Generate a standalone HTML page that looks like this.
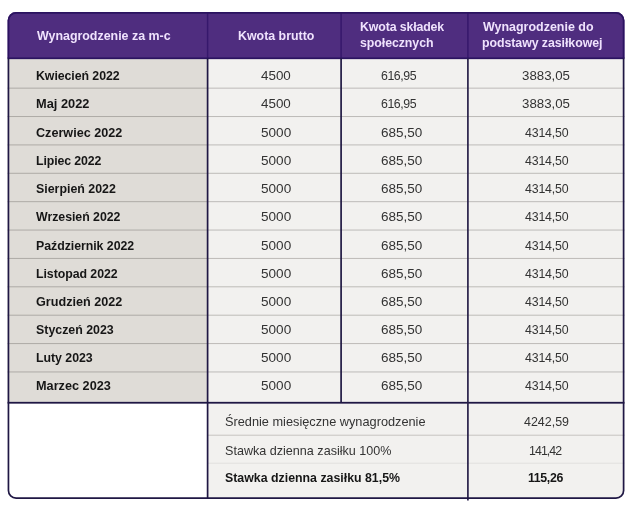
<!DOCTYPE html>
<html lang="pl"><head><meta charset="utf-8"><title>Wynagrodzenie – podstawa zasiłkowa</title>
<style>
html,body{margin:0;padding:0;background:#fff}
#w{position:relative;width:640px;height:510px;overflow:hidden;background:#fff;font-family:"Liberation Sans",sans-serif}
.t{position:absolute;white-space:nowrap;line-height:1;transform-origin:0 50%;display:block}
.b{font-weight:bold}
</style></head><body><div id="w">
<svg width="640" height="510" viewBox="0 0 640 510" style="position:absolute;left:0;top:0">
<defs><clipPath id="cp"><rect x="7.6" y="11.95" width="616.85" height="487.0" rx="8.5" ry="8.5"/></clipPath></defs>
<g clip-path="url(#cp)">
<rect x="0" y="0" width="640" height="58.3" fill="#4f2d7f"/>
<rect x="0" y="58.3" width="207.6" height="344.59999999999997" fill="#dfdcd7"/>
<rect x="207.6" y="58.3" width="432.4" height="451.7" fill="#f2f1ef"/>
<rect x="0" y="402.9" width="207.6" height="107.10000000000002" fill="#ffffff"/>
<rect x="0" y="87.65" width="207.6" height="1" fill="#aeaba6"/>
<rect x="207.6" y="87.65" width="432.4" height="1" fill="#bdbbb8"/>
<rect x="0" y="116.03" width="207.6" height="1" fill="#aeaba6"/>
<rect x="207.6" y="116.03" width="432.4" height="1" fill="#bdbbb8"/>
<rect x="0" y="144.41" width="207.6" height="1" fill="#aeaba6"/>
<rect x="207.6" y="144.41" width="432.4" height="1" fill="#bdbbb8"/>
<rect x="0" y="172.79" width="207.6" height="1" fill="#aeaba6"/>
<rect x="207.6" y="172.79" width="432.4" height="1" fill="#bdbbb8"/>
<rect x="0" y="201.17" width="207.6" height="1" fill="#aeaba6"/>
<rect x="207.6" y="201.17" width="432.4" height="1" fill="#bdbbb8"/>
<rect x="0" y="229.55" width="207.6" height="1" fill="#aeaba6"/>
<rect x="207.6" y="229.55" width="432.4" height="1" fill="#bdbbb8"/>
<rect x="0" y="257.93" width="207.6" height="1" fill="#aeaba6"/>
<rect x="207.6" y="257.93" width="432.4" height="1" fill="#bdbbb8"/>
<rect x="0" y="286.31" width="207.6" height="1" fill="#aeaba6"/>
<rect x="207.6" y="286.31" width="432.4" height="1" fill="#bdbbb8"/>
<rect x="0" y="314.69" width="207.6" height="1" fill="#aeaba6"/>
<rect x="207.6" y="314.69" width="432.4" height="1" fill="#bdbbb8"/>
<rect x="0" y="343.07" width="207.6" height="1" fill="#aeaba6"/>
<rect x="207.6" y="343.07" width="432.4" height="1" fill="#bdbbb8"/>
<rect x="0" y="371.45" width="207.6" height="1" fill="#aeaba6"/>
<rect x="207.6" y="371.45" width="432.4" height="1" fill="#bdbbb8"/>
<rect x="207.6" y="434.7" width="432.4" height="1" fill="#c6c4c1"/>
<rect x="207.6" y="462.7" width="432.4" height="1" fill="#e2e0de"/>
<rect x="206.85" y="0" width="1.5" height="58.3" fill="#36186c"/>
<rect x="340.35" y="0" width="1.5" height="58.3" fill="#36186c"/>
<rect x="467.15" y="0" width="1.5" height="58.3" fill="#36186c"/>
<rect x="0" y="57.449999999999996" width="640" height="1.7" fill="#2b1360"/>
<rect x="206.75" y="58.3" width="1.7" height="451.7" fill="#1f1744"/>
<rect x="340.25" y="58.3" width="1.7" height="344.59999999999997" fill="#211a44"/>
<rect x="0" y="401.84999999999997" width="640" height="1.8" fill="#1f1744"/>
</g>
<rect x="467.04999999999995" y="58.3" width="1.7" height="442.2" fill="#28214a"/>
<clipPath id="ct"><rect x="0" y="0" width="640" height="58.3"/></clipPath><clipPath id="cb"><rect x="0" y="58.3" width="640" height="451.7"/></clipPath>
<rect clip-path="url(#ct)" x="8.45" y="12.799999999999999" width="615.15" height="485.3" rx="7.65" ry="7.65" fill="none" stroke="#2b1360" stroke-width="1.7"/>
<rect clip-path="url(#cb)" x="8.45" y="12.799999999999999" width="615.15" height="485.3" rx="7.65" ry="7.65" fill="none" stroke="#1f1744" stroke-width="1.7"/>
</svg>
<span class="t b" style="left:36.80px;top:29px;font-size:13.0px;color:#efe2fd;transform:scaleX(0.9548)">Wynagrodzenie za m-c</span>
<span class="t b" style="left:237.97px;top:29px;font-size:13.0px;color:#efe2fd;transform:scaleX(0.9524)">Kwota brutto</span>
<span class="t b" style="left:359.77px;top:20px;font-size:13.0px;color:#efe2fd;letter-spacing:-0.141px;transform:scaleX(0.9500)">Kwota składek</span>
<span class="t b" style="left:360.12px;top:36px;font-size:13.0px;color:#efe2fd;letter-spacing:-0.064px;transform:scaleX(0.9500)">społecznych</span>
<span class="t b" style="left:483.00px;top:20px;font-size:13.0px;color:#efe2fd;transform:scaleX(0.9586)">Wynagrodzenie do</span>
<span class="t b" style="left:482.17px;top:36px;font-size:13.0px;color:#efe2fd;letter-spacing:-0.062px;transform:scaleX(0.9500)">podstawy zasiłkowej</span>
<span class="t b" style="left:35.97px;top:69px;font-size:13.0px;color:#161616;letter-spacing:-0.072px;transform:scaleX(0.9500)">Kwiecień 2022</span>
<span class="t" style="left:260.94px;top:69px;font-size:13.0px;color:#333333;transform:scaleX(1.0311)">4500</span>
<span class="t" style="left:380.71px;top:69px;font-size:13.0px;color:#333333;letter-spacing:-0.462px;transform:scaleX(0.9500)">616,95</span>
<span class="t" style="left:522.09px;top:69px;font-size:13.0px;color:#333333;transform:scaleX(1.0202)">3883,05</span>
<span class="t b" style="left:35.94px;top:97px;font-size:13.0px;color:#161616;transform:scaleX(0.9858)">Maj 2022</span>
<span class="t" style="left:260.94px;top:97px;font-size:13.0px;color:#333333;transform:scaleX(1.0311)">4500</span>
<span class="t" style="left:380.71px;top:97px;font-size:13.0px;color:#333333;letter-spacing:-0.462px;transform:scaleX(0.9500)">616,95</span>
<span class="t" style="left:522.09px;top:97px;font-size:13.0px;color:#333333;transform:scaleX(1.0202)">3883,05</span>
<span class="t b" style="left:35.81px;top:126px;font-size:13.0px;color:#161616;transform:scaleX(0.9707)">Czerwiec 2022</span>
<span class="t" style="left:260.83px;top:126px;font-size:13.0px;color:#333333;transform:scaleX(1.0439)">5000</span>
<span class="t" style="left:380.65px;top:126px;font-size:13.0px;color:#333333;transform:scaleX(1.0382)">685,50</span>
<span class="t" style="left:524.51px;top:126px;font-size:13.0px;color:#333333;letter-spacing:-0.182px;transform:scaleX(0.9500)">4314,50</span>
<span class="t b" style="left:35.97px;top:154px;font-size:13.0px;color:#161616;letter-spacing:-0.138px;transform:scaleX(0.9500)">Lipiec 2022</span>
<span class="t" style="left:260.83px;top:154px;font-size:13.0px;color:#333333;transform:scaleX(1.0439)">5000</span>
<span class="t" style="left:380.65px;top:154px;font-size:13.0px;color:#333333;transform:scaleX(1.0382)">685,50</span>
<span class="t" style="left:524.51px;top:154px;font-size:13.0px;color:#333333;letter-spacing:-0.182px;transform:scaleX(0.9500)">4314,50</span>
<span class="t b" style="left:35.94px;top:182px;font-size:13.0px;color:#161616;transform:scaleX(0.9532)">Sierpień 2022</span>
<span class="t" style="left:260.83px;top:182px;font-size:13.0px;color:#333333;transform:scaleX(1.0439)">5000</span>
<span class="t" style="left:380.65px;top:182px;font-size:13.0px;color:#333333;transform:scaleX(1.0382)">685,50</span>
<span class="t" style="left:524.51px;top:182px;font-size:13.0px;color:#333333;letter-spacing:-0.182px;transform:scaleX(0.9500)">4314,50</span>
<span class="t b" style="left:36.30px;top:210px;font-size:13.0px;color:#161616;letter-spacing:-0.038px;transform:scaleX(0.9500)">Wrzesień 2022</span>
<span class="t" style="left:260.83px;top:210px;font-size:13.0px;color:#333333;transform:scaleX(1.0439)">5000</span>
<span class="t" style="left:380.65px;top:210px;font-size:13.0px;color:#333333;transform:scaleX(1.0382)">685,50</span>
<span class="t" style="left:524.51px;top:210px;font-size:13.0px;color:#333333;letter-spacing:-0.182px;transform:scaleX(0.9500)">4314,50</span>
<span class="t b" style="left:35.97px;top:239px;font-size:13.0px;color:#161616;letter-spacing:-0.049px;transform:scaleX(0.9500)">Październik 2022</span>
<span class="t" style="left:260.83px;top:239px;font-size:13.0px;color:#333333;transform:scaleX(1.0439)">5000</span>
<span class="t" style="left:380.65px;top:239px;font-size:13.0px;color:#333333;transform:scaleX(1.0382)">685,50</span>
<span class="t" style="left:524.51px;top:239px;font-size:13.0px;color:#333333;letter-spacing:-0.182px;transform:scaleX(0.9500)">4314,50</span>
<span class="t b" style="left:35.97px;top:267px;font-size:13.0px;color:#161616;letter-spacing:-0.060px;transform:scaleX(0.9500)">Listopad 2022</span>
<span class="t" style="left:260.83px;top:267px;font-size:13.0px;color:#333333;transform:scaleX(1.0439)">5000</span>
<span class="t" style="left:380.65px;top:267px;font-size:13.0px;color:#333333;transform:scaleX(1.0382)">685,50</span>
<span class="t" style="left:524.51px;top:267px;font-size:13.0px;color:#333333;letter-spacing:-0.182px;transform:scaleX(0.9500)">4314,50</span>
<span class="t b" style="left:35.81px;top:295px;font-size:13.0px;color:#161616;transform:scaleX(0.9707)">Grudzień 2022</span>
<span class="t" style="left:260.83px;top:295px;font-size:13.0px;color:#333333;transform:scaleX(1.0439)">5000</span>
<span class="t" style="left:380.65px;top:295px;font-size:13.0px;color:#333333;transform:scaleX(1.0382)">685,50</span>
<span class="t" style="left:524.51px;top:295px;font-size:13.0px;color:#333333;letter-spacing:-0.182px;transform:scaleX(0.9500)">4314,50</span>
<span class="t b" style="left:35.94px;top:323px;font-size:13.0px;color:#161616;transform:scaleX(0.9521)">Styczeń 2023</span>
<span class="t" style="left:260.83px;top:323px;font-size:13.0px;color:#333333;transform:scaleX(1.0439)">5000</span>
<span class="t" style="left:380.65px;top:323px;font-size:13.0px;color:#333333;transform:scaleX(1.0382)">685,50</span>
<span class="t" style="left:524.51px;top:323px;font-size:13.0px;color:#333333;letter-spacing:-0.182px;transform:scaleX(0.9500)">4314,50</span>
<span class="t b" style="left:35.97px;top:351px;font-size:13.0px;color:#161616;letter-spacing:-0.039px;transform:scaleX(0.9500)">Luty 2023</span>
<span class="t" style="left:260.83px;top:351px;font-size:13.0px;color:#333333;transform:scaleX(1.0439)">5000</span>
<span class="t" style="left:380.65px;top:351px;font-size:13.0px;color:#333333;transform:scaleX(1.0382)">685,50</span>
<span class="t" style="left:524.51px;top:351px;font-size:13.0px;color:#333333;letter-spacing:-0.182px;transform:scaleX(0.9500)">4314,50</span>
<span class="t b" style="left:35.95px;top:379px;font-size:13.0px;color:#161616;transform:scaleX(0.9767)">Marzec 2023</span>
<span class="t" style="left:260.83px;top:379px;font-size:13.0px;color:#333333;transform:scaleX(1.0439)">5000</span>
<span class="t" style="left:380.65px;top:379px;font-size:13.0px;color:#333333;transform:scaleX(1.0382)">685,50</span>
<span class="t" style="left:524.51px;top:379px;font-size:13.0px;color:#333333;letter-spacing:-0.182px;transform:scaleX(0.9500)">4314,50</span>
<span class="t" style="left:225.09px;top:415px;font-size:13.0px;color:#333333;transform:scaleX(0.9806)">Średnie miesięczne wynagrodzenie</span>
<span class="t" style="left:225.10px;top:444px;font-size:13.0px;color:#333333;transform:scaleX(0.9680)">Stawka dzienna zasiłku 100%</span>
<span class="t b" style="left:225.34px;top:471px;font-size:13.0px;color:#161616;letter-spacing:-0.001px;transform:scaleX(0.9500)">Stawka dzienna zasiłku 81,5%</span>
<span class="t" style="left:523.66px;top:415px;font-size:13.0px;color:#333333;transform:scaleX(0.9583)">4242,59</span>
<span class="t" style="left:529.45px;top:444px;font-size:13.0px;color:#333333;letter-spacing:-0.972px;transform:scaleX(0.9500)">141,42</span>
<span class="t b" style="left:528.12px;top:471px;font-size:13.0px;color:#161616;letter-spacing:-0.371px;transform:scaleX(0.9500)">115,26</span>
</div></body></html>
